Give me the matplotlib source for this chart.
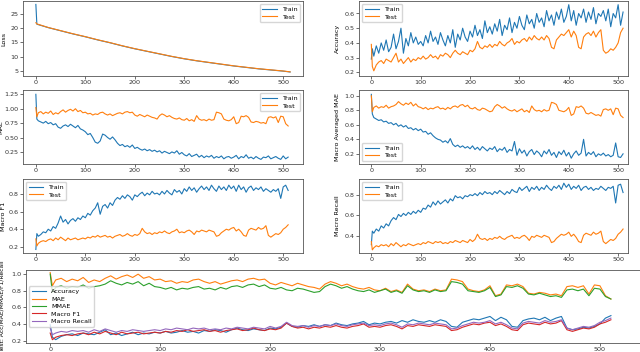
import matplotlib
matplotlib.use("Agg")
import matplotlib.pyplot as plt

# ---------------- data ----------------
epochs = [0, 2] + list(range(5, 515, 5))
loss_epochs = [0, 2, 25, 50, 75, 100, 125, 150, 175, 200, 225, 250, 275, 300,
               325, 350, 375, 400, 425, 450, 475, 500, 514]

loss_train = [28.2, 21.3, 20.1, 19.0, 17.9, 16.9, 15.8, 14.8, 13.7, 12.7, 11.8, 10.9,
              10.0, 9.2, 8.5, 7.9, 7.3, 6.7, 6.2, 5.7, 5.3, 4.9, 4.6]
loss_test = [21.8, 21.4, 20.15, 19.05, 17.95, 16.95, 15.85, 14.85, 13.75, 12.75, 11.85,
             10.95, 10.05, 9.25, 8.55, 7.95, 7.35, 6.75, 6.25, 5.75, 5.35, 4.95, 4.65]

acc_train = [0.29, 0.36, 0.31, 0.38, 0.33, 0.40, 0.35, 0.42, 0.34, 0.37,
             0.46, 0.36, 0.41, 0.50, 0.33, 0.43, 0.38, 0.47, 0.40, 0.44,
             0.39, 0.41, 0.38, 0.45, 0.40, 0.48, 0.41, 0.44, 0.39, 0.47,
             0.42, 0.38, 0.45, 0.40, 0.49, 0.37, 0.46, 0.42, 0.50, 0.44,
             0.41, 0.48, 0.44, 0.52, 0.45, 0.49, 0.43, 0.55, 0.47, 0.51,
             0.46, 0.53, 0.48, 0.56, 0.45, 0.52, 0.49, 0.57, 0.47, 0.54,
             0.50, 0.58, 0.52, 0.49, 0.59, 0.53, 0.56, 0.50, 0.60, 0.54,
             0.57, 0.51, 0.62, 0.55, 0.59, 0.52, 0.61, 0.56, 0.63, 0.54,
             0.58, 0.66, 0.55, 0.62, 0.52, 0.60, 0.57, 0.63, 0.54, 0.61,
             0.56, 0.64, 0.53, 0.60, 0.58, 0.62, 0.55, 0.63, 0.51, 0.60,
             0.57, 0.66, 0.52, 0.61]
acc_test = [0.39, 0.24, 0.21, 0.25, 0.27, 0.28, 0.26, 0.29, 0.28, 0.27,
            0.30, 0.33, 0.27, 0.29, 0.26, 0.28, 0.30, 0.27, 0.29, 0.28,
            0.30, 0.29, 0.31, 0.29, 0.30, 0.32, 0.30, 0.31, 0.29, 0.32,
            0.31, 0.33, 0.32, 0.30, 0.33, 0.35, 0.33, 0.32, 0.34, 0.33,
            0.32, 0.35, 0.34, 0.36, 0.41, 0.37, 0.36, 0.38, 0.37, 0.39,
            0.37, 0.39, 0.38, 0.41, 0.39, 0.38, 0.40, 0.41, 0.43, 0.39,
            0.41, 0.40, 0.42, 0.43, 0.41, 0.44, 0.42, 0.45, 0.43, 0.42,
            0.44, 0.42, 0.45, 0.43, 0.37, 0.36, 0.42, 0.44, 0.46, 0.45,
            0.47, 0.49, 0.44, 0.48, 0.45, 0.37, 0.36, 0.44, 0.46, 0.47,
            0.45, 0.48, 0.44, 0.47, 0.49, 0.35, 0.33, 0.34, 0.36, 0.35,
            0.37, 0.40, 0.47, 0.50]

mae_train = [1.25, 0.82, 0.79, 0.77, 0.75, 0.78, 0.74, 0.76, 0.72, 0.74,
             0.68, 0.66, 0.70, 0.72, 0.69, 0.73, 0.70, 0.67, 0.71, 0.65,
             0.63, 0.60, 0.55, 0.57, 0.50, 0.42, 0.40, 0.44, 0.56, 0.54,
             0.50, 0.47, 0.51, 0.46, 0.40, 0.36, 0.38, 0.34, 0.36, 0.33,
             0.37, 0.31, 0.33, 0.30, 0.28, 0.30, 0.27, 0.29, 0.26, 0.28,
             0.25, 0.27, 0.23, 0.26, 0.24, 0.22, 0.25, 0.23, 0.27, 0.21,
             0.24, 0.20, 0.18, 0.22, 0.17, 0.19, 0.21, 0.16, 0.19, 0.15,
             0.18, 0.16, 0.19, 0.14, 0.17, 0.15, 0.18, 0.13, 0.16, 0.17,
             0.14, 0.16, 0.19, 0.13, 0.17, 0.15, 0.20, 0.14, 0.16, 0.13,
             0.17, 0.14, 0.12, 0.16, 0.15, 0.18, 0.13, 0.15, 0.17, 0.14,
             0.12, 0.18, 0.13, 0.16]
mae_test = [1.02, 0.86, 0.93, 0.95, 0.91, 0.94, 0.92, 0.96, 0.90, 0.93,
            0.91, 0.95, 0.98, 0.94, 0.97, 0.99, 0.96, 1.00, 0.95, 0.97,
            0.93, 0.94, 0.91, 0.92, 0.89, 0.91, 0.90, 0.93, 0.94, 0.91,
            0.89, 0.91, 0.88, 0.90, 0.92, 0.93, 0.91, 0.94, 0.95, 0.93,
            0.94, 0.89, 0.87, 0.90, 0.88, 0.86, 0.89, 0.87, 0.85, 0.84,
            0.82, 0.88, 0.91, 0.89, 0.86, 0.88, 0.85, 0.83, 0.82, 0.84,
            0.81, 0.80, 0.83, 0.79, 0.81, 0.78, 0.88, 0.82, 0.80, 0.81,
            0.79, 0.82, 0.80, 0.81, 0.94, 0.93, 0.91, 0.82, 0.80, 0.79,
            0.81, 0.86, 0.74, 0.76, 0.87, 0.86, 0.88, 0.85, 0.77, 0.76,
            0.78, 0.77, 0.75, 0.76, 0.74, 0.85, 0.86, 0.84, 0.86, 0.76,
            0.87, 0.86, 0.74, 0.70]

mmae_train = [1.02, 0.75, 0.70, 0.68, 0.66, 0.67, 0.64, 0.65, 0.62, 0.63,
              0.60, 0.62, 0.58, 0.60, 0.57, 0.59, 0.55, 0.56, 0.53, 0.55,
              0.52, 0.54, 0.50, 0.51, 0.47, 0.49, 0.45, 0.42, 0.40, 0.39,
              0.36, 0.38, 0.35, 0.41, 0.33, 0.30, 0.32, 0.29, 0.31, 0.28,
              0.30, 0.27, 0.31, 0.26, 0.29, 0.25, 0.30, 0.27, 0.24, 0.28,
              0.26, 0.30, 0.23, 0.27, 0.25, 0.29, 0.22, 0.26, 0.24, 0.37,
              0.18, 0.27, 0.21, 0.25, 0.17, 0.23, 0.26, 0.19, 0.24, 0.21,
              0.16, 0.24, 0.20, 0.26, 0.18, 0.22, 0.15, 0.23, 0.19, 0.25,
              0.17, 0.22, 0.14, 0.20, 0.24, 0.18, 0.21, 0.40, 0.17, 0.22,
              0.19, 0.23, 0.16, 0.20, 0.18, 0.21, 0.17, 0.19, 0.16, 0.18,
              0.35, 0.16, 0.15, 0.20]
mmae_test = [1.00, 0.78, 0.84, 0.86, 0.83, 0.85, 0.84, 0.87, 0.83, 0.85,
             0.86, 0.88, 0.92, 0.89, 0.87, 0.90, 0.88, 0.91, 0.86, 0.89,
             0.85, 0.84, 0.82, 0.84, 0.81, 0.83, 0.82, 0.84, 0.85, 0.82,
             0.83, 0.81, 0.84, 0.82, 0.85, 0.86, 0.84, 0.87, 0.88, 0.85,
             0.87, 0.83, 0.82, 0.84, 0.81, 0.80, 0.83, 0.82, 0.80, 0.78,
             0.79, 0.85, 0.88, 0.86, 0.83, 0.85, 0.82, 0.80, 0.79, 0.81,
             0.78, 0.80, 0.82, 0.78, 0.80, 0.77, 0.86, 0.81, 0.79, 0.80,
             0.78, 0.81, 0.79, 0.80, 0.91, 0.90, 0.88, 0.80, 0.79, 0.78,
             0.80, 0.84, 0.73, 0.75, 0.85, 0.84, 0.86, 0.83, 0.76, 0.75,
             0.77, 0.75, 0.73, 0.74, 0.72, 0.81, 0.82, 0.80, 0.82, 0.74,
             0.83, 0.82, 0.73, 0.70]

f1_train = [0.17, 0.35, 0.32, 0.34, 0.37, 0.36, 0.40, 0.38, 0.43, 0.41,
            0.47, 0.55, 0.48, 0.51, 0.46, 0.50, 0.52, 0.49, 0.53, 0.51,
            0.55, 0.53, 0.58, 0.56, 0.61, 0.64, 0.70, 0.57, 0.66, 0.68,
            0.64, 0.70, 0.67, 0.73, 0.76, 0.74, 0.78, 0.75, 0.79, 0.77,
            0.73, 0.79, 0.77, 0.80, 0.82, 0.78, 0.81, 0.79, 0.83, 0.80,
            0.81, 0.79, 0.83, 0.80, 0.84, 0.81, 0.79, 0.85, 0.82, 0.84,
            0.80, 0.86, 0.83, 0.88, 0.84, 0.87, 0.82, 0.86, 0.89, 0.85,
            0.88, 0.84, 0.90, 0.86, 0.83, 0.89, 0.85, 0.88, 0.84, 0.90,
            0.86, 0.89, 0.83, 0.90, 0.85, 0.88, 0.82, 0.87, 0.89, 0.84,
            0.87, 0.85, 0.88, 0.83, 0.86, 0.84, 0.82, 0.85, 0.83, 0.86,
            0.75, 0.88, 0.90, 0.84]
f1_test = [0.29, 0.21, 0.24, 0.26, 0.27, 0.26, 0.28, 0.29, 0.27, 0.30,
           0.28, 0.31, 0.29, 0.27, 0.30, 0.28, 0.29, 0.30, 0.28, 0.29,
           0.30, 0.29, 0.31, 0.30, 0.32, 0.31, 0.33, 0.31, 0.32, 0.33,
           0.31, 0.32, 0.30, 0.32, 0.33, 0.34, 0.32, 0.33, 0.35, 0.33,
           0.32, 0.34, 0.33, 0.35, 0.41, 0.37, 0.35, 0.36, 0.34, 0.36,
           0.35, 0.37, 0.36, 0.38, 0.36, 0.35, 0.37, 0.38, 0.40, 0.36,
           0.37, 0.36, 0.38, 0.39, 0.37, 0.34, 0.38, 0.37, 0.39, 0.38,
           0.37, 0.39, 0.38, 0.37, 0.32, 0.33, 0.36, 0.38, 0.40, 0.39,
           0.41, 0.42, 0.38, 0.40, 0.37, 0.33, 0.32, 0.39, 0.41, 0.40,
           0.39, 0.42, 0.40, 0.41, 0.44, 0.33, 0.31, 0.33, 0.35, 0.34,
           0.36, 0.40, 0.42, 0.45]

rec_train = [0.32, 0.45, 0.43, 0.47, 0.45, 0.50, 0.48, 0.52, 0.50, 0.55,
             0.58, 0.56, 0.61, 0.59, 0.62, 0.60, 0.63, 0.61, 0.64, 0.62,
             0.65, 0.63, 0.67, 0.66, 0.70, 0.68, 0.73, 0.70, 0.74, 0.71,
             0.73, 0.75, 0.72, 0.76, 0.74, 0.79, 0.77, 0.78, 0.76, 0.79,
             0.78, 0.80, 0.79, 0.81, 0.79, 0.82, 0.80, 0.83, 0.81, 0.82,
             0.80, 0.83, 0.81, 0.84, 0.82, 0.80, 0.83, 0.81, 0.85, 0.83,
             0.82, 0.87, 0.84, 0.86, 0.88, 0.83, 0.87, 0.85, 0.88, 0.84,
             0.87, 0.85, 0.89, 0.86, 0.84, 0.88, 0.86, 0.89, 0.85, 0.91,
             0.87, 0.90, 0.85, 0.88, 0.86, 0.89, 0.84, 0.87, 0.88, 0.85,
             0.87, 0.84, 0.86, 0.85, 0.88, 0.86, 0.84, 0.87, 0.86, 0.88,
             0.72, 0.89, 0.90, 0.82]
rec_test = [0.35, 0.27, 0.29, 0.31, 0.30, 0.32, 0.31, 0.32, 0.30, 0.33,
            0.31, 0.34, 0.32, 0.30, 0.32, 0.31, 0.33, 0.32, 0.31, 0.32,
            0.33, 0.32, 0.34, 0.33, 0.35, 0.34, 0.33, 0.35, 0.34, 0.35,
            0.33, 0.34, 0.33, 0.35, 0.34, 0.36, 0.35, 0.34, 0.36, 0.35,
            0.34, 0.37, 0.35, 0.37, 0.42, 0.38, 0.37, 0.38, 0.36, 0.38,
            0.37, 0.39, 0.38, 0.40, 0.38, 0.37, 0.39, 0.40, 0.41, 0.38,
            0.39, 0.38, 0.40, 0.41, 0.39, 0.36, 0.40, 0.39, 0.41, 0.40,
            0.39, 0.41, 0.40, 0.39, 0.34, 0.35, 0.38, 0.40, 0.42, 0.41,
            0.42, 0.44, 0.40, 0.42, 0.39, 0.35, 0.34, 0.41, 0.43, 0.42,
            0.41, 0.44, 0.42, 0.43, 0.45, 0.35, 0.33, 0.35, 0.37, 0.36,
            0.38, 0.42, 0.44, 0.47]

xticks = [0, 100, 200, 300, 400, 500]

# ---------------- figure ----------------
W, H = 640, 352
fig = plt.figure(figsize=(W / 100, H / 100), dpi=100)
FS = 4.6
LW = 0.8


def px_axes(x0, y0, x1, y1):
    return fig.add_axes([x0 / W, 1 - y1 / H, (x1 - x0) / W, (y1 - y0) / H])


def style(ax, yticks, ylabel, xlim, ylim, label_px, x0, x1, fmt=None):
    ax.set_xlim(*xlim)
    ax.set_ylim(*ylim)
    ax.set_xticks(xticks)
    ax.set_yticks(yticks)
    if fmt:
        ax.set_yticklabels([fmt.format(v) for v in yticks])
    ax.tick_params(labelsize=FS, length=2, width=0.5, pad=1.2, colors="#333333")
    ax.set_ylabel(ylabel, fontsize=FS)
    ax.yaxis.set_label_coords((label_px - x0) / (x1 - x0), 0.5)
    for s in ax.spines.values():
        s.set_linewidth(0.6)
        s.set_color("#555555")


LX = (23, 303)
RX = (359, 628)
R1 = (1, 76)
R2 = (90, 164)
R3 = (179, 253)
XL_L = (-26, 540)
XL_R = (-25, 520)
LLAB = 6      # x pixel of left column y-labels
RLAB = 340    # x pixel of right column y-labels

leg_kw = dict(fontsize=FS, handlelength=2.2, borderpad=0.4, labelspacing=0.3,
              framealpha=0.8, edgecolor="#cccccc", fancybox=True)

# Loss
ax = px_axes(LX[0], R1[0], LX[1], R1[1])
ax.plot(loss_epochs, loss_train, color="tab:blue", lw=LW, label="Train")
ax.plot(loss_epochs, loss_test, color="tab:orange", lw=LW, label="Test")
style(ax, [5, 10, 15, 20, 25], "Loss", XL_L, (3.2, 29.4), LLAB, *LX)
ax.legend(loc="upper right", **leg_kw)

# Accuracy
ax = px_axes(RX[0], R1[0], RX[1], R1[1])
ax.plot(epochs, acc_train, color="tab:blue", lw=LW, label="Train")
ax.plot(epochs, acc_test, color="tab:orange", lw=LW, label="Test")
style(ax, [0.2, 0.3, 0.4, 0.5, 0.6], "Accuracy", XL_R, (0.175, 0.685), RLAB, *RX)
ax.legend(loc="upper left", **leg_kw)

# MAE
ax = px_axes(LX[0], R2[0], LX[1], R2[1])
ax.plot(epochs, mae_train, color="tab:blue", lw=LW, label="Train")
ax.plot(epochs, mae_test, color="tab:orange", lw=LW, label="Test")
style(ax, [0.25, 0.5, 0.75, 1.0, 1.25], "MAE", XL_L, (0.04, 1.325), 3.5, *LX, fmt="{:.2f}")
ax.legend(loc="upper right", **leg_kw)

# Macro averaged MAE
ax = px_axes(RX[0], R2[0], RX[1], R2[1])
ax.plot(epochs, mmae_train, color="tab:blue", lw=LW, label="Train")
ax.plot(epochs, mmae_test, color="tab:orange", lw=LW, label="Test")
style(ax, [0.2, 0.4, 0.6, 0.8, 1.0], "Macro Averaged MAE", XL_R, (0.06, 1.08), RLAB, *RX)
ax.legend(loc="lower left", **leg_kw)

# Macro F1
ax = px_axes(LX[0], R3[0], LX[1], R3[1])
ax.plot(epochs, f1_train, color="tab:blue", lw=LW, label="Train")
ax.plot(epochs, f1_test, color="tab:orange", lw=LW, label="Test")
style(ax, [0.2, 0.4, 0.6, 0.8], "Macro F1", XL_L, (0.13, 0.97), LLAB, *LX)
ax.legend(loc="upper left", **leg_kw)

# Macro Recall
ax = px_axes(RX[0], R3[0], RX[1], R3[1])
ax.plot(epochs, rec_train, color="tab:blue", lw=LW, label="Train")
ax.plot(epochs, rec_test, color="tab:orange", lw=LW, label="Test")
style(ax, [0.4, 0.6, 0.8], "Macro Recall", XL_R, (0.24, 0.95), RLAB, *RX)
ax.legend(loc="upper left", **leg_kw)

# Bottom combined test plot (extends past right edge like the reference)
BX = (26, 645)
ax = px_axes(BX[0], 270, BX[1], 343)
ax.plot(epochs, acc_test, color="tab:blue", lw=LW, label="Accuracy")
ax.plot(epochs, mae_test, color="tab:orange", lw=LW, label="MAE")
ax.plot(epochs, mmae_test, color="tab:green", lw=LW, label="MMAE")
ax.plot(epochs, f1_test, color="tab:red", lw=LW, label="Macro F1")
ax.plot(epochs, rec_test, color="tab:purple", lw=LW, label="Macro Recall")
style(ax, [0.2, 0.4, 0.6, 0.8, 1.0], "Test: Acc/MAE/MMAE/F1/Recall", (-22, 541),
      (0.17, 1.05), 5, *BX)
ax.yaxis.label.set_fontsize(4.3)
ax.legend(loc="center left", **leg_kw)

fig.savefig("out.png", dpi=100)
